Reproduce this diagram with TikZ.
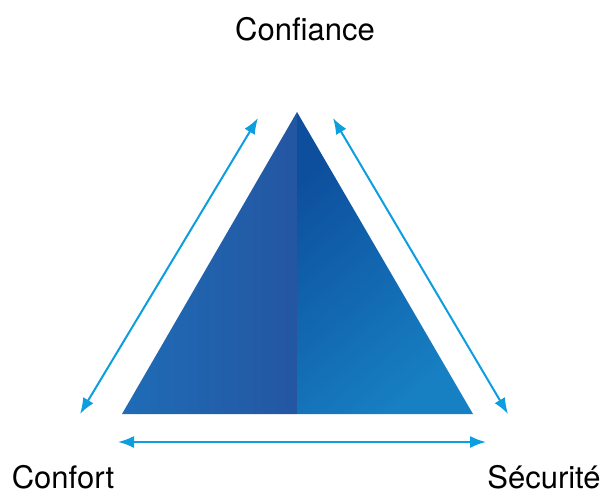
\documentclass[tikz,border=0pt]{standalone}
\usepackage{fontspec}
\setmainfont{TeX Gyre Heros}
\usepackage{tikz}
\usetikzlibrary{arrows.meta}
\definecolor{bluelight1}{RGB}{31,108,182}
\definecolor{bluemid1}{RGB}{36,86,162}
\definecolor{bluedark1}{RGB}{13,78,157}
\definecolor{bluesoft1}{RGB}{23,128,195}
\definecolor{cyan1}{RGB}{12,158,222}

\begin{document}
\begin{tikzpicture}[x=1pt, y=-1pt,
				link/.style={color=cyan1,line width=2pt,
					{Latex[length=16pt,width=12pt]}-{Latex[length=16pt,width=12pt]}},
				label/.style={font=\fontsize{31}{33}\selectfont,anchor=base,inner sep=0pt}]

	\useasboundingbox (0,0) rectangle (604,493);

	% Triangle
	\coordinate (top) at (297,112);
	\coordinate (bl) at (122,414);
	\coordinate (br) at (473,414);
	\coordinate (mid) at (297,414);
	\shade[left color=bluelight1, right color=bluemid1] (top) -- (bl) -- (mid) -- cycle;
	\shade[top color=bluedark1, bottom color=bluesoft1, shading angle=40] (top) -- (mid) -- (br) -- cycle;

	% Arrows
	\coordinate (a1) at (80,414);
	\coordinate (a2) at (258,118);
	\coordinate (b1) at (333,118);
	\coordinate (b2) at (508,414);
	\coordinate (c1) at (118,442);
	\coordinate (c2) at (486,442);
	\draw[link] (a1) -- (a2);
	\draw[link] (b1) -- (b2);
	\draw[link] (c1) -- (c2);

	% Labels
	\node[label] (confiance) at (305,40) {Confiance};
	\node[label] (confort) at (63,488) {Confort};
	\node[label] (securite) at (544,488) {Sécurité};

\end{tikzpicture}
\end{document}
